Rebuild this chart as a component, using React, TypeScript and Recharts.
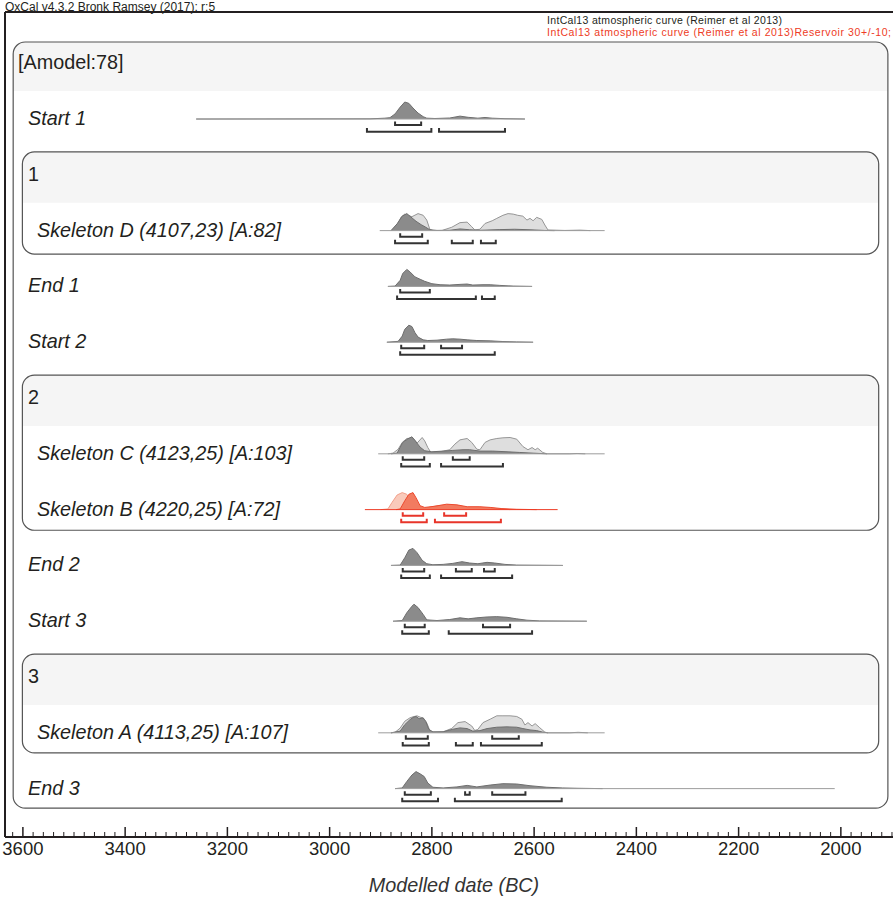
import React from 'react';
import { ComposedChart, Area, XAxis, YAxis, ReferenceArea, ReferenceLine } from 'recharts';

type Pt = [number, number];
type Span = [number, number];

// row labels, top to bottom
const ROW_LABELS = [
  '[Amodel:78]',
  'Start 1',
  '1',
  'Skeleton D (4107,23) [A:82]',
  'End 1',
  'Start 2',
  '2',
  'Skeleton C (4123,25) [A:103]',
  'Skeleton B (4220,25) [A:72]',
  'End 2',
  'Start 3',
  '3',
  'Skeleton A (4113,25) [A:107]',
  'End 3',
];
const HEADER_ROWS = [0, 2, 6, 11];
const INDENTED_ROWS = [3, 7, 8, 12];

// axis labels (years BC)
const MAJOR_TICKS = [3600, 3400, 3200, 3000, 2800, 2600, 2400, 2200, 2000];

// probability distributions: [year BC, relative density]
const START1_POST: Pt[] = [
  [3261, 0], [2921, 0.01], [2892, 0.05], [2882, 0.08], [2872, 0.3], [2862, 0.7], [2853, 1.0],
  [2845, 0.92], [2837, 0.65], [2827, 0.35], [2817, 0.14], [2810, 0.05], [2794, 0.03], [2765, 0.06],
  [2745, 0.17], [2729, 0.1], [2710, 0.05], [2696, 0.09], [2682, 0.05], [2657, 0.02], [2618, 0],
];
const SKELD_LIK: Pt[] = [
  [2880, 0], [2874, 0.05], [2866, 0.45], [2860, 0.8], [2853, 0.97], [2845, 0.88], [2839, 0.82],
  [2827, 1.0], [2817, 0.9], [2810, 0.62], [2804, 0.08], [2798, 0.01], [2780, 0.01], [2761, 0.2],
  [2745, 0.47], [2731, 0.5], [2722, 0.23], [2716, 0.04], [2706, 0.08], [2696, 0.42], [2682, 0.58],
  [2673, 0.72], [2661, 0.9], [2651, 1.0], [2641, 0.97], [2632, 0.9], [2622, 0.85], [2614, 0.62],
  [2608, 0.72], [2602, 0.58], [2595, 0.78], [2585, 0.66], [2579, 0.33], [2573, 0.04], [2540, 0.01],
  [2510, 0.03], [2490, 0],
];
const SKELD_POST: Pt[] = [
  [2880, 0], [2868, 0.4], [2858, 0.85], [2849, 1.0], [2841, 0.8], [2831, 0.55], [2821, 0.35],
  [2812, 0.2], [2804, 0.05], [2790, 0.01], [2765, 0.02], [2745, 0.1], [2726, 0.05], [2706, 0.02],
  [2667, 0.06], [2638, 0.08], [2608, 0.05], [2579, 0.01], [2560, 0],
];
const END1_POST: Pt[] = [
  [2886, 0], [2872, 0.02], [2862, 0.36], [2857, 0.76], [2849, 1.0], [2843, 0.86], [2833, 0.56],
  [2823, 0.42], [2814, 0.3], [2800, 0.16], [2784, 0.1], [2765, 0.08], [2745, 0.12], [2731, 0.14],
  [2720, 0.08], [2700, 0.1], [2686, 0.1], [2667, 0.06], [2641, 0.02], [2604, 0],
];
const START2_POST: Pt[] = [
  [2888, 0], [2866, 0.05], [2858, 0.36], [2853, 0.76], [2845, 1.0], [2839, 0.92], [2833, 0.56],
  [2827, 0.3], [2817, 0.14], [2808, 0.1], [2790, 0.12], [2771, 0.18], [2759, 0.2], [2745, 0.18],
  [2731, 0.14], [2712, 0.1], [2686, 0.08], [2661, 0.04], [2634, 0.02], [2602, 0],
];
const SKELC_LIK: Pt[] = [
  [2886, 0], [2876, 0.04], [2866, 0.27], [2858, 0.67], [2849, 0.9], [2837, 0.94], [2829, 0.63],
  [2819, 0.96], [2814, 0.76], [2808, 0.37], [2802, 0.08], [2784, 0.12], [2765, 0.24], [2755, 0.57],
  [2745, 0.82], [2731, 0.9], [2722, 0.67], [2712, 0.27], [2706, 0.24], [2696, 0.67], [2686, 0.82],
  [2673, 0.9], [2661, 0.94], [2647, 0.96], [2634, 0.86], [2622, 0.43], [2612, 0.24], [2604, 0.37],
  [2598, 0.24], [2593, 0.33], [2583, 0.08], [2575, 0], [2530, 0], [2516, 0.02], [2500, 0],
];
const SKELC_POST: Pt[] = [
  [2880, 0], [2868, 0.04], [2857, 0.67], [2847, 0.88], [2839, 1.0], [2833, 0.78], [2823, 0.39],
  [2814, 0.18], [2800, 0.12], [2778, 0.16], [2759, 0.2], [2739, 0.24], [2726, 0.24], [2706, 0.16],
  [2681, 0.16], [2653, 0.12], [2628, 0.08], [2602, 0.04], [2575, 0],
];
const SKELB_LIK: Pt[] = [
  [2900, 0], [2886, 0.04], [2878, 0.42], [2868, 0.86], [2858, 1.0], [2849, 0.9], [2843, 0.6],
  [2837, 0.16], [2829, 0.04], [2810, 0.1], [2790, 0.23], [2771, 0.28], [2751, 0.25], [2731, 0.13],
  [2712, 0.13], [2686, 0.1], [2667, 0.04], [2647, 0],
];
const SKELB_POST: Pt[] = [
  [2870, 0], [2862, 0.04], [2853, 0.52], [2845, 0.9], [2837, 1.0], [2831, 0.7], [2823, 0.23],
  [2814, 0.13], [2794, 0.2], [2771, 0.32], [2751, 0.28], [2731, 0.17], [2706, 0.17], [2686, 0.13],
  [2663, 0.06], [2634, 0.02], [2595, 0],
];
const END2_POST: Pt[] = [
  [2880, 0], [2862, 0.02], [2853, 0.45], [2845, 0.9], [2837, 1.0], [2829, 0.75], [2819, 0.3],
  [2810, 0.1], [2798, 0.04], [2778, 0.06], [2759, 0.12], [2741, 0.22], [2726, 0.14], [2710, 0.1],
  [2692, 0.18], [2677, 0.14], [2657, 0.06], [2634, 0.02], [2544, 0],
];
const START3_POST: Pt[] = [
  [2876, 0], [2858, 0.04], [2849, 0.5], [2839, 0.88], [2835, 1.0], [2827, 0.8], [2817, 0.4],
  [2810, 0.08], [2790, 0.04], [2765, 0.1], [2745, 0.2], [2729, 0.14], [2712, 0.2], [2692, 0.25],
  [2673, 0.27], [2653, 0.23], [2634, 0.14], [2614, 0.06], [2589, 0.02], [2497, 0],
];
const SKELA_LIK: Pt[] = [
  [2880, 0], [2872, 0.03], [2862, 0.28], [2853, 0.68], [2843, 0.88], [2837, 0.94], [2829, 1.0],
  [2823, 0.92], [2817, 0.88], [2810, 0.58], [2804, 0.14], [2798, 0.02], [2778, 0.06], [2761, 0.26],
  [2749, 0.6], [2735, 0.66], [2722, 0.4], [2716, 0.14], [2710, 0.2], [2700, 0.6], [2686, 0.8],
  [2673, 1.0], [2661, 1.0], [2647, 1.0], [2634, 0.96], [2624, 0.8], [2618, 0.46], [2612, 0.6],
  [2604, 0.4], [2598, 0.54], [2589, 0.3], [2579, 0.04], [2573, 0], [2530, 0], [2514, 0.03], [2495, 0],
];
const SKELA_POST: Pt[] = [
  [2880, 0], [2862, 0.1], [2853, 0.48], [2843, 0.77], [2837, 0.9], [2831, 0.96], [2825, 0.83],
  [2817, 0.87], [2812, 0.67], [2806, 0.2], [2798, 0.06], [2778, 0.06], [2759, 0.21], [2745, 0.29],
  [2731, 0.25], [2720, 0.1], [2706, 0.13], [2692, 0.25], [2673, 0.33], [2653, 0.35], [2634, 0.33],
  [2622, 0.25], [2608, 0.17], [2595, 0.13], [2583, 0.04], [2573, 0],
];
const END3_POST: Pt[] = [
  [2872, 0], [2858, 0.04], [2849, 0.42], [2839, 0.8], [2831, 1.0], [2823, 0.87], [2815, 0.71],
  [2808, 0.33], [2798, 0.08], [2778, 0.04], [2751, 0.1], [2731, 0.19], [2712, 0.1], [2686, 0.21],
  [2661, 0.29], [2634, 0.27], [2608, 0.17], [2575, 0.08], [2544, 0.04], [2516, 0.02], [2466, 0],
];

// highest posterior density ranges: 68.2% and 95.4%
const START1_68: Span[] = [[2872, 2821]];
const START1_95: Span[] = [[2927, 2801], [2786, 2657]];
const SKELD_68: Span[] = [[2862, 2819]];
const SKELD_95: Span[] = [[2872, 2808], [2761, 2720], [2704, 2675]];
const END1_68: Span[] = [[2862, 2804]];
const END1_95: Span[] = [[2868, 2714], [2702, 2677]];
const START2_68: Span[] = [[2860, 2815], [2782, 2741]];
const START2_95: Span[] = [[2862, 2677]];
const SKELC_68: Span[] = [[2857, 2815], [2759, 2726]];
const SKELC_95: Span[] = [[2860, 2804], [2782, 2661]];
const SKELB_68: Span[] = [[2857, 2817], [2776, 2733]];
const SKELB_95: Span[] = [[2860, 2810], [2794, 2665]];
const END2_68: Span[] = [[2857, 2815], [2753, 2722], [2698, 2677]];
const END2_95: Span[] = [[2860, 2804], [2782, 2643]];
const START3_68: Span[] = [[2853, 2814], [2700, 2647]];
const START3_95: Span[] = [[2858, 2806], [2767, 2604]];
const SKELA_68: Span[] = [[2851, 2808], [2682, 2630]];
const SKELA_95: Span[] = [[2857, 2806], [2753, 2720], [2704, 2585]];
const END3_68: Span[] = [[2853, 2802], [2735, 2726], [2682, 2617]];
const END3_95: Span[] = [[2858, 2788], [2755, 2546]];

type Item = {
  row: number;
  span: Span;
  post: Pt[];
  lik?: Pt[];
  r68: Span[];
  r95: Span[];
  red?: boolean;
};

const ITEMS: Item[] = [
  { row: 1, span: [3261, 2618], post: START1_POST, r68: START1_68, r95: START1_95 },
  { row: 3, span: [2902, 2462], post: SKELD_POST, lik: SKELD_LIK, r68: SKELD_68, r95: SKELD_95 },
  { row: 4, span: [2886, 2604], post: END1_POST, r68: END1_68, r95: END1_95 },
  { row: 5, span: [2888, 2602], post: START2_POST, r68: START2_68, r95: START2_95 },
  { row: 7, span: [2905, 2462], post: SKELC_POST, lik: SKELC_LIK, r68: SKELC_68, r95: SKELC_95 },
  { row: 8, span: [2931, 2554], post: SKELB_POST, lik: SKELB_LIK, r68: SKELB_68, r95: SKELB_95, red: true },
  { row: 9, span: [2880, 2544], post: END2_POST, r68: END2_68, r95: END2_95 },
  { row: 10, span: [2876, 2497], post: START3_POST, r68: START3_68, r95: START3_95 },
  { row: 12, span: [2905, 2462], post: SKELA_POST, lik: SKELA_LIK, r68: SKELA_68, r95: SKELA_95 },
  { row: 13, span: [2872, 2012], post: END3_POST, r68: END3_68, r95: END3_95 },
];

// group boxes (row units), with the header row that gets a shaded band
const BOXES = [
  { top: -0.38, bottom: 13.35, header: 0, left: 3619, right: 1908 },
  { top: 1.59, bottom: 3.42, header: 2, left: 3601, right: 1926 },
  { top: 5.59, bottom: 8.37, header: 6, left: 3601, right: 1926 },
  { top: 10.59, bottom: 12.36, header: 11, left: 3601, right: 1926 },
];

const X_LEFT = 3635;
const X_RIGHT = 1898;
const Y_TOP = -0.918;
const Y_BOTTOM = 13.867;
const PEAK = 0.305;
const OFF_68 = 0.108;
const OFF_95 = 0.226;
const CAP = 0.063;

const INK = '#231f20';
const FONT = '"Liberation Sans", Arial, sans-serif';

const GREY = { post: '#8b8b8b', postLine: '#6e6e6e', lik: '#dedede', likLine: '#969696', base: '#9d9d9d', bracket: '#333333' };
const RED = { post: '#f27b60', postLine: '#ec4a2f', lik: '#f9cabb', likLine: '#f3a08b', base: '#ee3b24', bracket: '#e8352a' };

const xTicks: number[] = [];
for (let t = 1900; t <= 3620; t += 20) xTicks.push(t);
const rowIdx = ROW_LABELS.map((_, i) => i);

const toArea = (pts: Pt[], row: number) => pts.map(([t, d]) => ({ t, v: row - PEAK * d }));

function XTick({ x, y, payload }: any) {
  const v = payload.value as number;
  const major = MAJOR_TICKS.includes(v);
  return (
    <g>
      <line x1={x} x2={x} y1={y} y2={y - (major ? 10 : 5)} stroke={INK} strokeWidth={major ? 1.5 : 1} />
      {major && (
        <text x={x} y={y + 18} textAnchor="middle" fontSize={18.5} fontFamily={FONT} fill={INK}>
          {v}
        </text>
      )}
    </g>
  );
}

// row names sit at fixed indents inside the frame; y comes from the axis scale
function RowLabel({ y, payload }: any) {
  const i = payload.value as number;
  const header = HEADER_ROWS.includes(i);
  const x = i === 0 ? 18 : INDENTED_ROWS.includes(i) ? 37 : 28;
  return (
    <text x={x} y={y + 6} fontSize={19.8} fontFamily={FONT} fontStyle={header ? 'normal' : 'italic'} fill={INK} textAnchor="start">
      {ROW_LABELS[i]}
    </text>
  );
}

const boxShape = (bandFrac: number) => (p: any) => {
  const { x, y, width: w, height: h } = p;
  const r = 12;
  const bh = h * bandFrac;
  const band = `M${x},${y + bh} V${y + r} Q${x},${y} ${x + r},${y} H${x + w - r} Q${x + w},${y} ${x + w},${y + r} V${y + bh} Z`;
  return (
    <g>
      <path d={band} fill="#f5f5f5" />
      <rect x={x} y={y} width={w} height={h} rx={r} ry={r} fill="none" stroke="#555" strokeWidth={1.2} />
    </g>
  );
};

const bracketShape = (color: string) => (p: any) => {
  const { x, y, width: w, height: h } = p;
  return <path d={`M${x},${y} V${y + h} H${x + w} V${y}`} fill="none" stroke={color} strokeWidth={2} />;
};

export default function App() {
  return (
    <div style={{ position: 'absolute', left: 0, top: 0, width: 894, height: 902, background: '#fff' }}>
      <ComposedChart width={894} height={902} margin={{ top: 12, right: 1, bottom: 5, left: 4 }}>
        <XAxis
          type="number"
          dataKey="t"
          domain={[X_RIGHT, X_LEFT]}
          reversed
          allowDataOverflow
          ticks={xTicks}
          interval={0}
          tickSize={0}
          tickMargin={0}
          tickLine={false}
          tick={<XTick />}
          axisLine={{ stroke: INK, strokeWidth: 2 }}
          height={60}
        />
        <YAxis
          type="number"
          domain={[Y_TOP, Y_BOTTOM]}
          reversed
          allowDataOverflow
          ticks={rowIdx}
          interval={0}
          width={1}
          axisLine={false}
          tickLine={false}
          tick={<RowLabel />}
        />
        <ReferenceLine y={Y_TOP} stroke={INK} strokeWidth={2} />
        <ReferenceLine x={X_LEFT} stroke={INK} strokeWidth={2} />
        {BOXES.map((b, i) => (
          <ReferenceArea
            key={`box${i}`}
            x1={b.left}
            x2={b.right}
            y1={b.top}
            y2={b.bottom}
            shape={boxShape((b.header + 0.5 - b.top) / (b.bottom - b.top))}
          />
        ))}
        {ITEMS.map((it) => {
          const c = it.red ? RED : GREY;
          return (
            <ReferenceLine
              key={`base${it.row}`}
              segment={[{ x: it.span[0], y: it.row }, { x: it.span[1], y: it.row }]}
              stroke={c.base}
              strokeWidth={1}
            />
          );
        })}
        {ITEMS.filter((it) => it.lik).map((it) => {
          const c = it.red ? RED : GREY;
          return (
            <Area
              key={`lik${it.row}`}
              data={toArea(it.lik as Pt[], it.row)}
              dataKey="v"
              type="linear"
              baseValue={it.row}
              fill={c.lik}
              fillOpacity={1}
              stroke={c.likLine}
              strokeWidth={1}
              dot={false}
              activeDot={false}
              isAnimationActive={false}
            />
          );
        })}
        {ITEMS.map((it) => {
          const c = it.red ? RED : GREY;
          return (
            <Area
              key={`post${it.row}`}
              data={toArea(it.post, it.row)}
              dataKey="v"
              type="linear"
              baseValue={it.row}
              fill={c.post}
              fillOpacity={1}
              stroke={c.postLine}
              strokeWidth={1}
              dot={false}
              activeDot={false}
              isAnimationActive={false}
            />
          );
        })}
        {ITEMS.flatMap((it) => {
          const c = it.red ? RED : GREY;
          const r68 = it.r68.map(([a, b], j) => (
            <ReferenceArea
              key={`h68-${it.row}-${j}`}
              x1={a}
              x2={b}
              y1={it.row + OFF_68 - CAP}
              y2={it.row + OFF_68}
              shape={bracketShape(c.bracket)}
            />
          ));
          const r95 = it.r95.map(([a, b], j) => (
            <ReferenceArea
              key={`h95-${it.row}-${j}`}
              x1={a}
              x2={b}
              y1={it.row + OFF_95 - CAP}
              y2={it.row + OFF_95}
              shape={bracketShape(c.bracket)}
            />
          ));
          return [...r68, ...r95];
        })}
      </ComposedChart>
      <svg width={894} height={902} style={{ position: 'absolute', left: 0, top: 0, pointerEvents: 'none' }}>
        <text x={5} y={10.5} fontSize={12} fontFamily={FONT} fill={INK}>
          OxCal v4.3.2 Bronk Ramsey (2017); r:5
        </text>
        <text x={547} y={24} fontSize={10.5} fontFamily={FONT} fill={INK} textLength={235} lengthAdjust="spacing">
          IntCal13 atmospheric curve (Reimer et al 2013)
        </text>
        <text x={547} y={35.5} fontSize={10.5} fontFamily={FONT} fill="#ee3b24" textLength={344} lengthAdjust="spacing">
          IntCal13 atmospheric curve (Reimer et al 2013)Reservoir 30+/-10;
        </text>
        <text x={454} y={892} textAnchor="middle" fontSize={19.8} fontStyle="italic" fontFamily={FONT} fill="#333">
          Modelled date (BC)
        </text>
      </svg>
    </div>
  );
}
